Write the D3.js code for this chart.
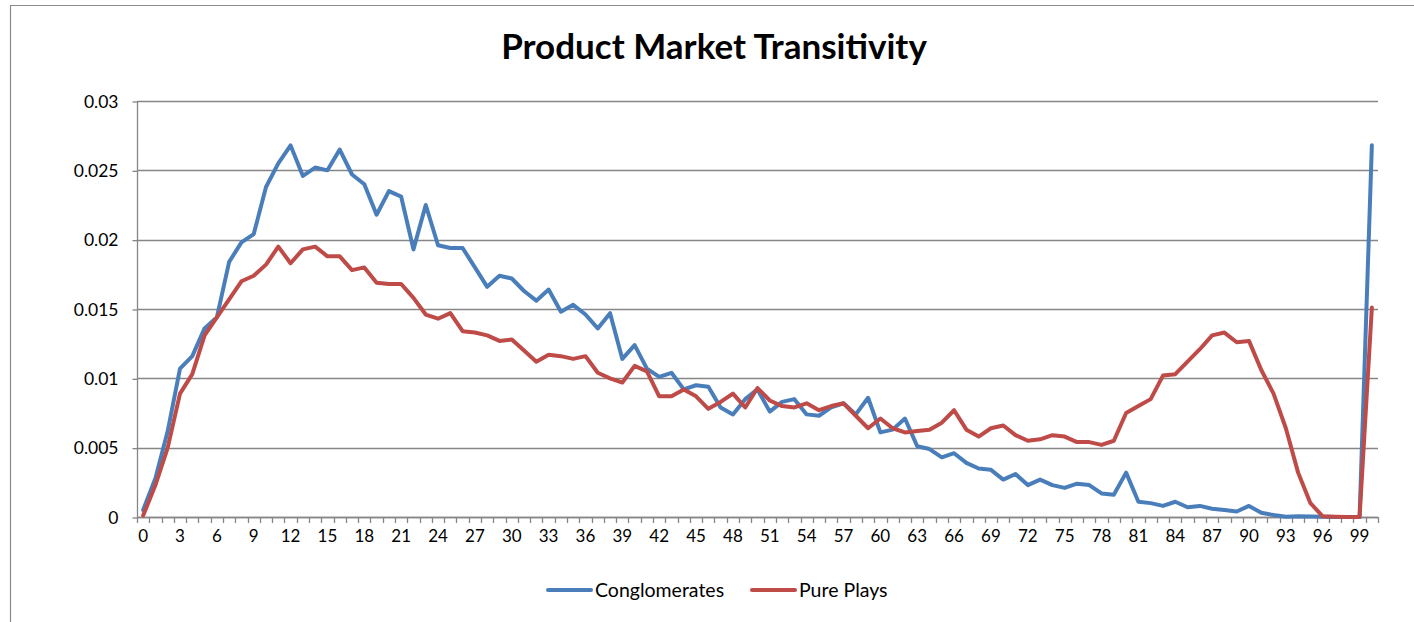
<!DOCTYPE html>
<html><head><meta charset="utf-8">
<script src="https://cdn.jsdelivr.net/npm/d3@7"></script>
<style>body{margin:0;background:#fff;}svg{display:block;}</style>
</head><body>
<svg id="c" width="1414" height="622"></svg>
<script>
const categories = d3.range(0, 101);
const conglomerates = [0.0005,0.0028,0.0062,0.0107,0.0116,0.0136,0.0144,0.0184,0.0198,0.0204,0.0238,0.0255,0.0268,0.0246,0.0252,0.0250,0.0265,
0.0247,0.0240,0.0218,0.0235,0.0231,0.0193,0.0225,0.0196,0.0194,0.0194,0.0180,0.0166,0.0174,0.0172,0.0163,0.0156,0.0164,
0.0148,0.0153,0.0146,0.0136,0.0147,0.0114,0.0124,0.0107,0.0101,0.0104,0.0092,0.0095,0.0094,0.0079,0.0074,0.0085,0.0092,
0.0076,0.0083,0.0085,0.0074,0.0073,0.0079,0.0082,0.0074,0.0086,0.0061,0.0063,0.0071,0.0051,0.0049,0.0043,0.0046,
0.0039,0.0035,0.0034,0.0027,0.0031,0.0023,0.0027,0.0023,0.0021,0.0024,0.0023,0.0017,0.0016,0.0032,0.0011,0.0010,0.0008,
0.0011,0.0007,0.0008,0.0006,0.0005,0.0004,0.0008,0.0003,0.00014,0.00002,0.00005,0.00003,0.00001,0,0,0,0.0268];
const purePlays = [0.0001,0.0023,0.0050,0.0089,0.0103,0.0131,0.0144,0.0157,0.0170,0.0174,0.0182,0.0195,0.0183,0.0193,0.0195,0.0188,0.0188,
0.0178,0.0180,0.0169,0.0168,0.0168,0.0158,0.0146,0.0143,0.0147,0.0134,0.0133,0.0131,0.0127,0.0128,0.0120,0.0112,0.0117,
0.0116,0.0114,0.0116,0.0104,0.0100,0.0097,0.0109,0.0105,0.0087,0.0087,0.0092,0.0087,0.0078,0.0083,0.0089,0.0079,0.0093,
0.0084,0.0080,0.0079,0.0082,0.0077,0.0080,0.0082,0.0073,0.0064,0.0071,0.0064,0.0061,0.0062,0.0063,0.0068,0.0077,
0.0063,0.0058,0.0064,0.0066,0.0059,0.0055,0.0056,0.0059,0.0058,0.0054,0.0054,0.0052,0.0055,0.0075,0.0080,0.0085,0.0102,
0.0103,0.0112,0.0121,0.0131,0.0133,0.0126,0.0127,0.0106,0.0089,0.0064,0.0032,0.0010,0.00005,0.00002,0,0,0.0151];
const yTicks = [0, 0.005, 0.01, 0.015, 0.02, 0.025, 0.03];
const yTickLabels = ["0","0.005","0.01","0.015","0.02","0.025","0.03"];
const seriesNames = ["Conglomerates", "Pure Plays"];
const colors = ["#4a7ebb", "#be4b48"];

const svg = d3.select("#c");
const font = "Lato, 'Open Sans', sans-serif";
const L = 137, R = 1378, T = 101, B = 517;
const x = d3.scaleBand().domain(categories).range([L, R]);
const y = d3.scaleLinear().domain([0, 0.03]).range([B, T]);

// chart frame
svg.append("path").attr("d", "M10.5,622 V5.5 H1414").attr("fill","none").attr("stroke","#8c8c8c").attr("stroke-width",1.2);

// title
svg.append("text").attr("x", 714).attr("y", 59).attr("text-anchor","middle")
  .attr("font-family", font).attr("font-weight","bold").attr("font-size", 35).attr("fill","#000")
  .text("Product Market Transitivity");

// gridlines
svg.append("g").selectAll("line").data(yTicks).join("line")
  .attr("x1", L).attr("x2", R).attr("y1", d => Math.round(y(d))+0.5).attr("y2", d => Math.round(y(d))+0.5)
  .attr("stroke", "#868686").attr("stroke-width", 1.3);

// y axis
const yAxis = d3.axisLeft(y).tickValues(yTicks).tickFormat((d,i) => yTickLabels[i]).tickSize(5).tickPadding(14);
const gy = svg.append("g").attr("transform", `translate(${L+0.5},0.5)`).call(yAxis);
gy.select(".domain").attr("stroke","#868686").attr("stroke-width",1.3).attr("d", `M0,${T}V${B}`);
gy.selectAll(".tick line").attr("stroke","#868686").attr("stroke-width",1.3);
gy.selectAll("text").attr("font-family", font).attr("font-size", 17.5).attr("fill","#000");

// x axis
const edges = d3.range(0, 102).map(i => L + i * x.step());
svg.append("g").selectAll("line").data(edges).join("line")
  .attr("x1", d => Math.round(d)+0.5).attr("x2", d => Math.round(d)+0.5).attr("y1", B).attr("y2", B + 6)
  .attr("stroke","#868686").attr("stroke-width",1.3);
const xAxis = d3.axisBottom(x).tickValues(categories.filter(d => d % 3 === 0)).tickSize(0).tickPadding(12);
const gx = svg.append("g").attr("transform", `translate(0,${Math.round(B)+0.5})`).call(xAxis);
gx.select(".domain").attr("stroke","#868686").attr("stroke-width",1.3).attr("d", `M${L},0H${R}`);
gx.selectAll("text").attr("font-family", font).attr("font-size", 17).attr("fill","#000");

// lines
const cx = d => x(d) + x.bandwidth() / 2;
[conglomerates, purePlays].forEach((vals, k) => {
  const line = d3.line().x((d, i) => cx(categories[i])).y(d => y(d));
  svg.append("path").datum(vals).attr("d", line).attr("fill","none")
    .attr("stroke", colors[k]).attr("stroke-width", 4).attr("stroke-linejoin","round").attr("stroke-linecap","round");
});

// legend
const legendX = [548, 752];
seriesNames.forEach((n, k) => {
  const g = svg.append("g").attr("transform", `translate(${legendX[k]},590)`);
  g.append("line").attr("x1", 0).attr("x2", 43).attr("y1", 0).attr("y2", 0)
    .attr("stroke", colors[k]).attr("stroke-width", 4).attr("stroke-linecap","round");
  g.append("text").attr("x", 47).attr("y", 7).attr("font-family", font).attr("font-size", 19.5).attr("fill","#000").text(n);
});
</script>
</body></html>
